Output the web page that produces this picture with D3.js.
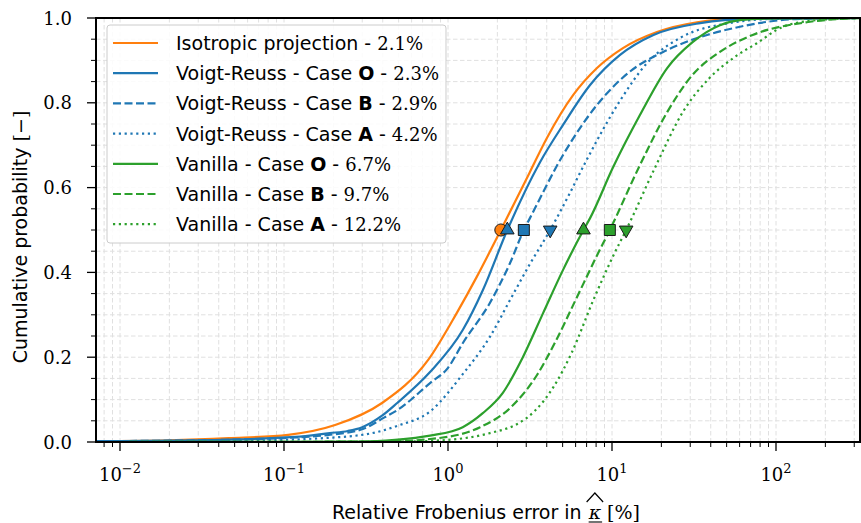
<!DOCTYPE html>
<html>
<head>
<meta charset="utf-8">
<script src="https://cdn.jsdelivr.net/npm/d3@7"></script>
<style>
  html, body { margin: 0; padding: 0; background: #fff; }
  svg { display: block; }
</style>
</head>
<body>
<svg id="chart" width="861" height="523"></svg>
<script>
// ---------------- DATA ----------------
const seriesNames = ["Isotropic projection", "Voigt-Reuss", "Voigt-Reuss", "Voigt-Reuss", "Vanilla", "Vanilla", "Vanilla"];
const seriesCases = [null, "O", "B", "A", "O", "B", "A"];
const medianValues = [2.1, 2.3, 2.9, 4.2, 6.7, 9.7, 12.2];

const isoX = [0.007, 0.02, 0.046, 0.106, 0.205, 0.396, 0.755, 1.13, 1.5, 2.1, 3.16, 4.01, 5.79, 8.1, 11.66, 18.8, 33, 60, 330];
const isoP = [0.002, 0.004, 0.009, 0.017, 0.040, 0.092, 0.193, 0.304, 0.39, 0.5, 0.637, 0.717, 0.818, 0.882, 0.929, 0.967, 0.99, 0.998, 1.0];

const vrOX = [0.007, 0.03, 0.117, 0.19, 0.245, 0.30, 0.396, 0.49, 0.777, 1.23, 1.63, 2.3, 3.64, 5.03, 7.35, 11.2, 17.9, 34.5, 70, 330];
const vrOP = [0.002, 0.004, 0.012, 0.021, 0.026, 0.035, 0.062, 0.092, 0.165, 0.264, 0.358, 0.5, 0.66, 0.748, 0.842, 0.913, 0.96, 0.988, 0.998, 1.0];

const vrBX = [0.007, 0.03, 0.12, 0.2, 0.30, 0.41, 0.49, 0.777, 1.0, 1.23, 1.8, 2.39, 2.9, 3.16, 5.03, 8.1, 12.8, 20.5, 38, 55, 140, 330];
const vrBP = [0.002, 0.004, 0.011, 0.018, 0.030, 0.058, 0.075, 0.139, 0.175, 0.233, 0.328, 0.422, 0.5, 0.528, 0.677, 0.795, 0.873, 0.92, 0.96, 0.976, 0.998, 1.0];

const vrAX = [0.007, 0.05, 0.19, 0.374, 0.49, 0.777, 1.23, 1.8, 2.39, 3.16, 4.2, 5.5, 7.0, 11.2, 16.3, 26, 52, 100, 330];
const vrAP = [0.001, 0.003, 0.010, 0.024, 0.038, 0.072, 0.16, 0.248, 0.335, 0.42, 0.5, 0.585, 0.665, 0.805, 0.893, 0.953, 0.988, 0.998, 1.0];

const vaOX = [0.007, 0.3, 0.475, 0.777, 1.23, 1.63, 2.16, 2.86, 3.8, 5.03, 6.7, 7.35, 10.1, 14.8, 21.7, 31, 45.5, 60, 100, 330];
const vaOP = [0.0, 0.001, 0.005, 0.015, 0.035, 0.068, 0.116, 0.2, 0.304, 0.406, 0.5, 0.528, 0.646, 0.771, 0.882, 0.943, 0.983, 0.995, 0.999, 1.0];

const vaBX = [0.007, 0.4, 0.99, 1.57, 2.39, 3.49, 4.5, 6.12, 8.1, 9.7, 14.8, 21.7, 31, 45.5, 72, 154, 330];
const vaBP = [0.0, 0.001, 0.012, 0.035, 0.08, 0.158, 0.235, 0.342, 0.44, 0.5, 0.653, 0.778, 0.866, 0.92, 0.96, 0.99, 1.0];

const vaAX = [0.007, 0.5, 1.0, 1.8, 2.63, 3.0, 3.8, 4.4, 5.67, 7.7, 10.2, 12.2, 18.6, 27, 39, 57, 76, 110, 178, 330];
const vaAP = [0.0, 0.001, 0.005, 0.021, 0.042, 0.056, 0.095, 0.13, 0.21, 0.335, 0.44, 0.5, 0.653, 0.778, 0.857, 0.91, 0.94, 0.979, 0.995, 1.0];

const xTickExps = [-2, -1, 0, 1, 2];
const yTicks = [0.0, 0.2, 0.4, 0.6, 0.8, 1.0];

// ---------------- STYLE ----------------
const colors = ["#ff7f0e", "#1f77b4", "#1f77b4", "#1f77b4", "#2ca02c", "#2ca02c", "#2ca02c"];
const dashes = [null, null, "8,3.5", "2.2,3.6", null, "8,3.5", "2.2,3.6"];
const markerTypes = ["circle", "up", "square", "down", "up", "square", "down"];
const SANS = "'DejaVu Sans', sans-serif";
const SERIF = "'DejaVu Serif', serif";

const seriesX = [isoX, vrOX, vrBX, vrAX, vaOX, vaBX, vaAX];
const seriesP = [isoP, vrOP, vrBP, vrAP, vaOP, vaBP, vaAP];

// ---------------- LAYOUT ----------------
const L = 96, R = 860, T = 18, B = 442;
const svg = d3.select("#chart");

const x = d3.scaleLog().domain([Math.pow(10, (L - 448) / 164), Math.pow(10, (R - 448) / 164)]).range([L, R]);
const y = d3.scaleLinear().domain([0, 1]).range([B, T]);

// grid
const [x0, x1] = x.domain();
const minorX = [], majorX = [];
for (let e = -3; e <= 3; e++) {
  for (let m = 1; m <= 9; m++) {
    const v = m * Math.pow(10, e);
    if (v < x0 || v > x1) continue;
    (m === 1 ? majorX : minorX).push(v);
  }
}
const minorY = d3.range(0, 1.0001, 0.05).filter(v => Math.abs(v * 5 - Math.round(v * 5)) > 1e-6);

const grid = svg.append("g");
grid.selectAll("line.vx").data(minorX.concat(majorX)).join("line")
  .attr("x1", d => x(d)).attr("x2", d => x(d)).attr("y1", T).attr("y2", B)
  .attr("stroke", "#e0e0e0").attr("stroke-width", 1).attr("stroke-dasharray", "4.5,2.5");
grid.selectAll("line.hy").data(minorY.concat(yTicks)).join("line")
  .attr("x1", L).attr("x2", R).attr("y1", d => y(d)).attr("y2", d => y(d))
  .attr("stroke", "#e0e0e0").attr("stroke-width", 1).attr("stroke-dasharray", "4.5,2.5");

// clip
svg.append("clipPath").attr("id", "clip").append("rect")
  .attr("x", L).attr("y", T - 2).attr("width", R - L).attr("height", B - T + 2);

const line = d3.line().x(d => x(d[0])).y(d => y(d[1])).curve(d3.curveMonotoneX);
const gl = svg.append("g").attr("clip-path", "url(#clip)");
seriesX.forEach((xs, i) => {
  const pts = xs.map((v, j) => [v, seriesP[i][j]]);
  gl.append("path").datum(pts)
    .attr("d", line)
    .attr("fill", "none")
    .attr("stroke", colors[i])
    .attr("stroke-width", 2.2)
    .attr("stroke-dasharray", dashes[i])
    .attr("stroke-linejoin", "round");
});

// markers at median
const symFor = t => t === "circle" ? d3.symbolCircle : (t === "square" ? d3.symbolSquare : d3.symbolTriangle);
const sizeFor = t => t === "circle" ? 115 : (t === "square" ? 121 : 80);
const gm = svg.append("g");
medianValues.forEach((v, i) => {
  const t = markerTypes[i];
  gm.append("path")
    .attr("d", d3.symbol().type(symFor(t)).size(sizeFor(t))())
    .attr("transform", `translate(${x(v)},${y(0.5)}) rotate(${t === "down" ? 180 : 0})`)
    .attr("fill", colors[i])
    .attr("stroke", "#1a1a1a")
    .attr("stroke-width", 1);
});

// spines
svg.append("rect").attr("x", L).attr("y", T).attr("width", R - L).attr("height", B - T)
  .attr("fill", "none").attr("stroke", "#000").attr("stroke-width", 2);

// x ticks
const xt = svg.append("g");
xt.selectAll("line.maj").data(majorX).join("line")
  .attr("x1", d => x(d)).attr("x2", d => x(d)).attr("y1", B).attr("y2", B + 9)
  .attr("stroke", "#000").attr("stroke-width", 1.3);
xt.selectAll("line.min").data(minorX).join("line")
  .attr("x1", d => x(d)).attr("x2", d => x(d)).attr("y1", B).attr("y2", B + 5)
  .attr("stroke", "#000").attr("stroke-width", 1);
xTickExps.forEach(e => {
  const t = xt.append("text").attr("x", x(Math.pow(10, e))).attr("y", 481)
    .attr("text-anchor", "middle").attr("font-family", SERIF).attr("font-size", 18).attr("fill", "#000");
  t.append("tspan").text("10");
  t.append("tspan").attr("dy", -8).attr("font-size", 13).text(e < 0 ? "\u2212" + (-e) : String(e));
});

// y ticks
const yt = svg.append("g");
yt.selectAll("line.maj").data(yTicks).join("line")
  .attr("x1", L - 9).attr("x2", L).attr("y1", d => y(d)).attr("y2", d => y(d))
  .attr("stroke", "#000").attr("stroke-width", 1.3);
yt.selectAll("line.min").data(minorY).join("line")
  .attr("x1", L - 5).attr("x2", L).attr("y1", d => y(d)).attr("y2", d => y(d))
  .attr("stroke", "#000").attr("stroke-width", 1);
yt.selectAll("text").data(yTicks).join("text")
  .attr("x", 72).attr("y", d => y(d) + 6.5)
  .attr("text-anchor", "end").attr("font-family", SERIF).attr("font-size", 18).attr("fill", "#000")
  .text(d => d.toFixed(1));

// x label
const xlab = svg.append("g");
const xl1 = xlab.append("text").attr("x", 332).attr("y", 519).attr("font-family", SANS).attr("font-size", 19)
  .text("Relative Frobenius error in");
const w1 = xl1.node().getComputedTextLength();
const kx = 332 + w1 + 7;
const xl2 = xlab.append("text").attr("x", kx).attr("y", 519).attr("font-family", SERIF).attr("font-style", "italic").attr("font-size", 19)
  .text("\u03BA");
const w2 = xl2.node().getComputedTextLength();
xlab.append("text").attr("x", kx + w2 + 6).attr("y", 519).attr("font-family", SERIF).attr("font-size", 19)
  .text("[%]");
xlab.append("path")
  .attr("d", `M${kx - 2},${502} L${kx + w2 / 2},${493} L${kx + w2 + 2},${502}`)
  .attr("fill", "none").attr("stroke", "#000").attr("stroke-width", 1.2);
xlab.append("line").attr("x1", kx).attr("x2", kx + w2 + 1).attr("y1", 522).attr("y2", 522)
  .attr("stroke", "#000").attr("stroke-width", 1.1);

// y label
const ylab = svg.append("text")
  .attr("transform", "translate(27,237) rotate(-90)")
  .attr("text-anchor", "middle").attr("font-size", 19);
ylab.append("tspan").attr("font-family", SANS).text("Cumulative probability ");
ylab.append("tspan").attr("font-family", SERIF).text("[\u2212]");

// legend
const lg = svg.append("g");
const box = lg.append("rect").attr("x", 107).attr("y", 25).attr("height", 218)
  .attr("rx", 3).attr("fill", "#fff").attr("fill-opacity", 0.85)
  .attr("stroke", "#cccccc").attr("stroke-width", 1);
let maxEnd = 0;
seriesNames.forEach((nm, i) => {
  const ry = 43 + i * 30.2;
  lg.append("line").attr("x1", 113).attr("x2", 158).attr("y1", ry).attr("y2", ry)
    .attr("stroke", colors[i]).attr("stroke-width", 2.2).attr("stroke-dasharray", dashes[i]);
  const t = lg.append("text").attr("x", 176).attr("y", ry + 7).attr("font-size", 19).attr("fill", "#000");
  if (seriesCases[i]) {
    t.append("tspan").attr("font-family", SANS).text(nm + " - Case ");
    t.append("tspan").attr("font-family", SANS).attr("font-weight", "bold").text(seriesCases[i]);
    t.append("tspan").attr("font-family", SANS).text(" - ");
  } else {
    t.append("tspan").attr("font-family", SANS).text(nm + " - ");
  }
  t.append("tspan").attr("font-family", SERIF).attr("font-size", 18).text(medianValues[i].toFixed(1) + "%");
  maxEnd = Math.max(maxEnd, 176 + t.node().getComputedTextLength());
});
box.attr("width", maxEnd + 7 - 107);
</script>
</body>
</html>
